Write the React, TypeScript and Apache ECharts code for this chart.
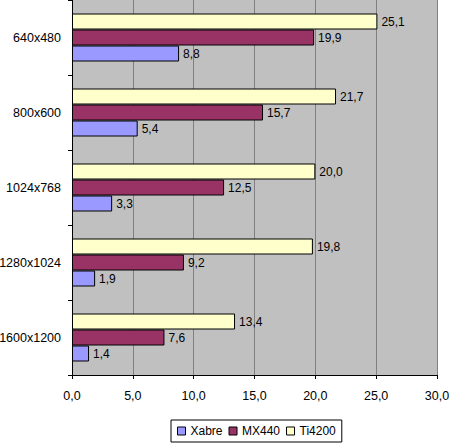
import React, { useEffect, useRef } from "react";
import * as echarts from "echarts";

const categories = ["640x480", "800x600", "1024x768", "1280x1024", "1600x1200"];
const xabre = [8.8, 5.4, 3.3, 1.9, 1.4];
const mx440 = [19.9, 15.7, 12.5, 9.2, 7.6];
const ti4200 = [25.1, 21.7, 20.0, 19.8, 13.4];
const seriesNames = ["Xabre", "MX440", "Ti4200"];
const seriesColors = ["#9999FF", "#993366", "#FFFFCC"];

const fmt = (v: number) => v.toFixed(1).replace(".", ",");

export default function App() {
  const ref = useRef<HTMLDivElement>(null);
  useEffect(() => {
    if (!ref.current) return;
    const chart = echarts.init(ref.current, null, { renderer: "svg" });
    const font = "'Liberation Sans', Arial, sans-serif";
    const values = [xabre, mx440, ti4200];
    const series = [2, 1, 0].map((i) => ({
      name: seriesNames[i],
      type: "bar",
      data: values[i],
      barWidth: 16,
      barGap: "0%",
      itemStyle: { color: seriesColors[i], borderColor: "#000", borderWidth: 1 },
      label: {
        show: true,
        position: "right",
        distance: 4,
        color: "#000",
        fontFamily: font,
        fontSize: 12,
        formatter: (p: any) => fmt(p.value),
      },
    }));
    chart.setOption({
      animation: false,
      backgroundColor: "#fff",
      textStyle: { fontFamily: font },
      grid: {
        left: 72,
        right: 12,
        top: 0,
        height: 375,
        show: true,
        backgroundColor: "#C0C0C0",
        borderWidth: 0,
        containLabel: false,
        outerBoundsMode: "none",
      },
      legend: {
        data: seriesNames,
        bottom: 1,
        left: 171,
        orient: "horizontal",
        icon: "rect",
        itemWidth: 8,
        itemHeight: 8,
        itemGap: 6,
        borderColor: "#000",
        borderWidth: 1,
        backgroundColor: "#fff",
        padding: [5, 6, 5, 6],
        borderRadius: 0,
        textStyle: { fontFamily: font, fontSize: 12, color: "#000" },
        itemStyle: { borderColor: "#000", borderWidth: 1 },
      },
      xAxis: {
        type: "value",
        min: 0,
        max: 30,
        interval: 5,
        axisLine: { show: true, lineStyle: { color: "#000", width: 1 } },
        axisTick: { show: true, length: 4, lineStyle: { color: "#000" } },
        splitLine: { show: true, lineStyle: { color: "#808080", width: 1 } },
        axisLabel: {
          color: "#000",
          fontFamily: font,
          fontSize: 12.5,
          margin: 14,
          formatter: (v: number) => fmt(v),
        },
      },
      yAxis: {
        type: "category",
        data: categories,
        inverse: true,
        axisLine: { show: true, lineStyle: { color: "#000", width: 1 } },
        axisTick: { show: true, length: 4, lineStyle: { color: "#000" } },
        axisLabel: { color: "#000", fontFamily: font, fontSize: 12.5, margin: 11 },
        splitLine: { show: false },
      },
      series,
    });
    return () => chart.dispose();
  }, []);
  return (
    <div
      ref={ref}
      style={{ position: "fixed", left: 0, top: 0, width: 449, height: 443 }}
    />
  );
}
